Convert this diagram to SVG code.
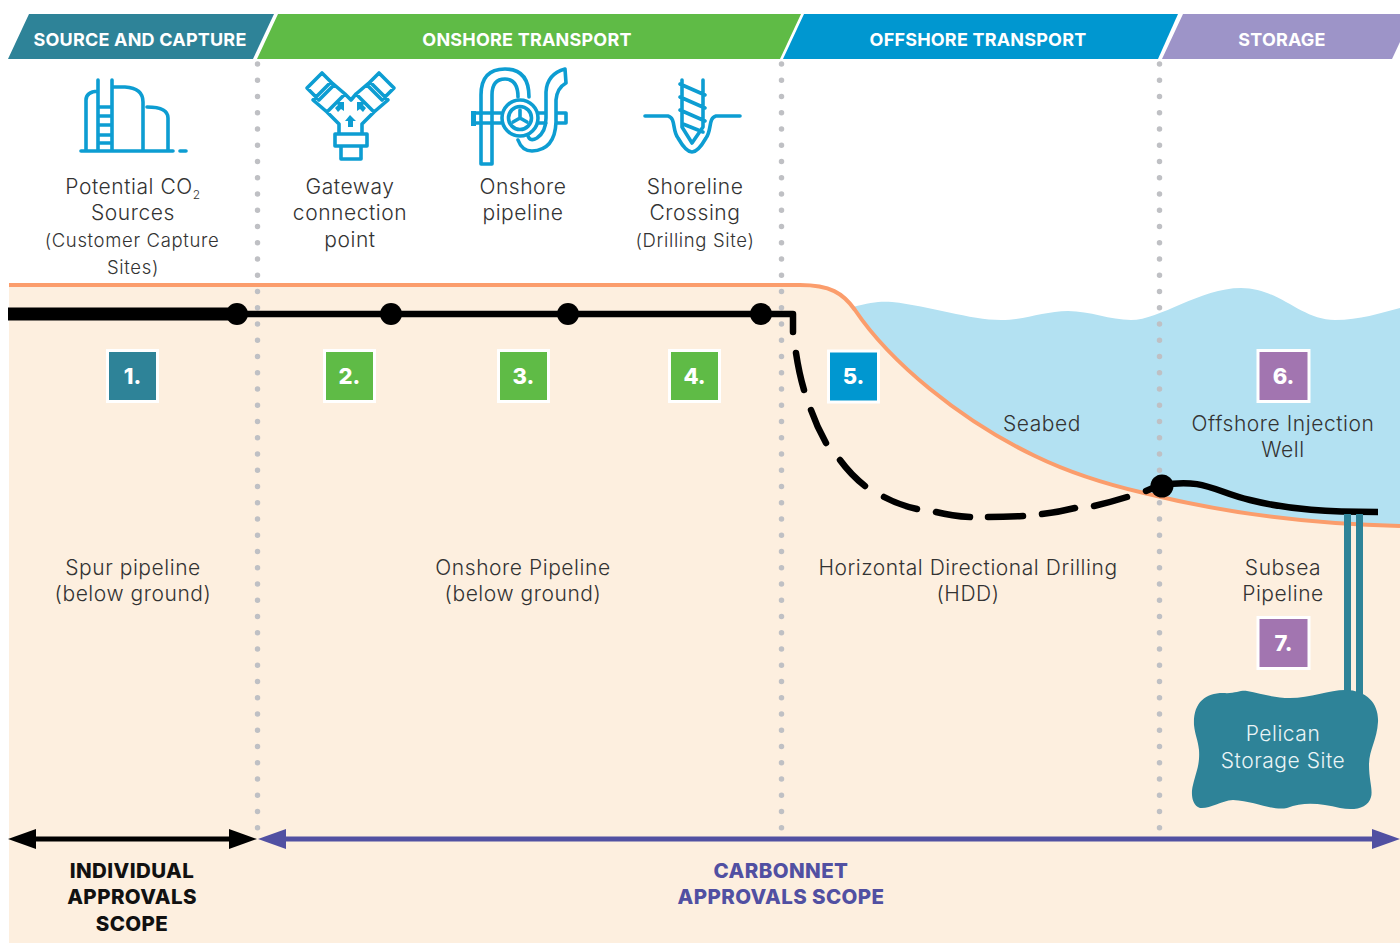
<svg xmlns="http://www.w3.org/2000/svg" width="1400" height="943" viewBox="0 0 1400 943">
<style>
text{font-family:"Inter","Noto Sans","Liberation Sans",sans-serif;text-anchor:middle;fill:#333;font-weight:300;font-size:21px;letter-spacing:.55px}
.s{font-size:18.5px;letter-spacing:.65px}
.h{fill:#fff;font-weight:700;font-size:18px;letter-spacing:.2px}
.b{fill:#fff;font-weight:800;font-size:22px;letter-spacing:0}
.k{fill:#111;font-weight:800;font-size:20.5px;letter-spacing:.4px}
.p{fill:#5150a2;font-weight:800;font-size:20.5px;letter-spacing:.4px}
.w{fill:#eaf4f6}
.ic{fill:none;stroke:#0d9dd2;stroke-width:3.600;stroke-linecap:round;stroke-linejoin:round}
.dot{fill:none;stroke:#bfc0c4;stroke-width:5.5;stroke-linecap:round;stroke-dasharray:0 16.25}
.bx{stroke:#fff;stroke-width:3}
</style>
<defs>
<marker id="ak" markerUnits="userSpaceOnUse" markerWidth="28" markerHeight="20" refX="0" refY="10" orient="auto-start-reverse"><path d="M0 0L28 10L0 20z" fill="#000"/></marker>
<marker id="ap" markerUnits="userSpaceOnUse" markerWidth="28" markerHeight="20" refX="0" refY="10" orient="auto-start-reverse"><path d="M0 0L28 10L0 20z" fill="#5150a2"/></marker>
</defs>
<g id="ground">
<path d="M9 285H800C830 285 843 293 855 310C890 362 960 420 1035 456C1070 473 1105 484 1144 493C1220 512 1300 524 1400 526V943H9z" fill="#fdefdf"/>
<path d="M853 307C870 302 882 301 892 302C930 306 970 320 1001 320C1025 320 1045 311 1068 311C1090 311 1110 320 1131 320C1160 320 1200 288 1241 288C1280 288 1300 320 1335 320C1360 320 1380 313 1400 308V526C1300 524 1220 512 1144 493C1105 484 1070 473 1035 456C960 420 890 362 855 310z" fill="#b3e1f2"/>
<path d="M9 285H800C830 285 843 293 855 310C890 362 960 420 1035 456C1070 473 1105 484 1144 493C1220 512 1300 524 1400 526" fill="none" stroke="#fb9d6c" stroke-width="4"/>
</g>
<g id="dividers">
<path class="dot" d="M257.500 64V835"/>
<path class="dot" d="M781.500 64V835"/>
<path class="dot" d="M1159.500 64V835"/>
</g>
<g id="header-source"><path d="M29 14H274L253 59H8z" fill="#2e8398"/><text class="h" x="140" y="46">SOURCE AND CAPTURE</text></g>
<g id="header-onshore"><path d="M278 14H801L780 59H257z" fill="#5fbb46"/><text class="h" x="527" y="46">ONSHORE TRANSPORT</text></g>
<g id="header-offshore"><path d="M804 14H1178L1158 59H783z" fill="#0097d0"/><text class="h" x="978" y="46">OFFSHORE TRANSPORT</text></g>
<g id="header-storage"><path d="M1183 14H1400V42L1392 59H1162z" fill="#9d94c8"/><text class="h" x="1282" y="46">STORAGE</text></g>

<g id="node-co2-sources">
<g class="ic"><path d="M81 151H173M180 151H186M98 80V151M112 80V151M86 151V100Q86 92 98 91M112 87H125Q143 88 143 102V151M147 107Q168 107 168 118V151M98 107H112M98 116H112M98 125H112M98 135H112M98 143H112"/></g>
<text x="133" y="194">Potential CO<tspan font-size="12" dy="5">2</tspan></text>
<text x="133" y="220">Sources</text>
<text class="s" x="132" y="247">(Customer Capture</text>
<text class="s" x="133" y="274">Sites)</text>
</g>
<g id="node-gateway">
<g class="ic"><path d="M307 88L322 73L334 85L319 100zM394 88L379 73L367 85L382 100zM313 100L331 82L345 94L327 112zM388 100L370 82L356 94L374 112zM327 112L339 124V134M374 112L362 124V134M345 94L351 100L356 94M335 134H367V146H335zM341 146H361V159H341z"/></g>
<path d="M335 102h9v9l-3-2-3 3-3-4 3-3zM366 102h-9v9l3-2 3 3 3-4-3-3zM350 115l6 6h-3v6h-5v-6h-3z" fill="#0d9dd2"/>
<text x="350" y="194">Gateway</text>
<text x="350" y="220">connection</text>
<text x="350" y="247">point</text>
</g>
<g id="node-onshore-pipeline">
<g class="ic"><path d="M481 164V95Q481 69 505 69Q529 69 529 97M492 164V95Q492 79 505 79Q518 79 518 97M481 164H492M565 69Q547 74 546 92V118Q546 132 537 138Q530 142 528 136M565 69L566 83Q557 88 556 100V122Q555 150 532 151Q522 151 518 140M476 113H501M476 123H501M538 113H546M538 123H546M556 113H566V123H556"/>
<circle cx="520" cy="118" r="18"/><circle cx="520" cy="118" r="11.500"/><path d="M520 118V110M520 118L513 122M520 118L527 122"/></g>
<rect x="471" y="111" width="5" height="15" fill="#0d9dd2"/>
<text x="523" y="194">Onshore</text>
<text x="523" y="220">pipeline</text>
</g>
<g id="node-shoreline">
<g class="ic"><path d="M645 116H668C676 118 672 130 678 138Q686 152 692 152Q698 152 706 138C712 130 708 118 716 116H740M682 80V127L692 143L703 127V80M680 84L705 95M680 97L705 108M680 110L705 121M683 124L703 132"/></g>
<text x="695" y="194">Shoreline</text>
<text x="695" y="220">Crossing</text>
<text class="s" x="695" y="247">(Drilling Site)</text>
</g>

<g id="connectors">
<path d="M8 314H237" stroke="#000" stroke-width="13" fill="none"/>
<path d="M237 314H793V332" stroke="#000" stroke-width="6.500" fill="none" stroke-linejoin="round" stroke-linecap="round"/>
<path d="M796 353Q799 373 804 390M811 410Q817 427 826 443M840 460Q851 475 865 486M884 497Q899 505 917 509M936 512Q952 516 970 517M988 517Q1006 517 1023 516M1042 514Q1059 512 1075 508M1094 506Q1111 502 1127 497M1146 491L1162 484" fill="none" stroke="#000" stroke-width="6.500" stroke-linecap="round"/>
<path d="M1162 485C1205 478 1215 492 1250 500C1290 510 1330 512 1378 512" fill="none" stroke="#000" stroke-width="6.500"/>
<path d="M1347.500 514V700M1359.500 514V700" fill="none" stroke="#2e8398" stroke-width="7"/>
<circle cx="237" cy="314" r="11"/><circle cx="391" cy="314" r="11"/><circle cx="568" cy="314" r="11"/><circle cx="761" cy="314" r="11"/><circle cx="1162" cy="486" r="11.500"/>
<path d="M36 839H229" stroke="#000" stroke-width="5" marker-start="url(#ak)" marker-end="url(#ak)" fill="none"/>
<path d="M286 839H1372" stroke="#5150a2" stroke-width="5" marker-start="url(#ap)" marker-end="url(#ap)" fill="none"/>
</g>

<g id="badge-1"><rect class="bx" x="107.500" y="350.500" width="50" height="51" fill="#2e8398"/><text class="b" x="132.500" y="384">1.</text></g>
<g id="badge-2"><rect class="bx" x="324.500" y="350.500" width="50" height="51" fill="#5fbb46"/><text class="b" x="349.500" y="384">2.</text></g>
<g id="badge-3"><rect class="bx" x="498.500" y="350.500" width="50" height="51" fill="#5fbb46"/><text class="b" x="523.500" y="384">3.</text></g>
<g id="badge-4"><rect class="bx" x="669.500" y="350.500" width="50" height="51" fill="#5fbb46"/><text class="b" x="694.500" y="384">4.</text></g>
<g id="badge-5"><rect class="bx" x="828.500" y="351" width="50" height="51" fill="#0097d0"/><text class="b" x="853.500" y="384">5.</text></g>
<g id="badge-6"><rect class="bx" x="1258" y="350.500" width="51" height="51" fill="#a275b0"/><text class="b" x="1283.500" y="384">6.</text></g>
<g id="badge-7"><rect class="bx" x="1258" y="617.500" width="51" height="51" fill="#a275b0"/><text class="b" x="1283.500" y="651">7.</text></g>

<g id="label-spur"><text x="133" y="575">Spur pipeline</text><text x="133" y="601">(below ground)</text></g>
<g id="label-onshore"><text x="523" y="575">Onshore Pipeline</text><text x="523" y="601">(below ground)</text></g>
<g id="label-hdd"><text x="968" y="575">Horizontal Directional Drilling</text><text x="968" y="601">(HDD)</text></g>
<g id="label-seabed"><text x="1042" y="431">Seabed</text></g>
<g id="label-injection"><text x="1283" y="431">Offshore Injection</text><text x="1283" y="457">Well</text></g>
<g id="label-subsea"><text x="1283" y="575">Subsea</text><text x="1283" y="601">Pipeline</text></g>
<g id="node-pelican">
<path d="M1194 725C1193 703 1205 693 1223 693C1235 694 1240 690 1247 691C1262 694 1275 698 1290 698C1310 698 1330 690 1345 690C1368 690 1379 705 1378 722C1377 740 1369 750 1369 765C1369 780 1373 790 1371 797C1368 808 1355 811 1340 808C1322 804 1305 801 1287 808C1272 811 1255 801 1233 800C1220 801 1210 809 1200 808C1191 805 1191 792 1193 785C1196 772 1200 765 1199 750C1198 740 1195 735 1194 725z" fill="#2e8398"/>
<text class="w" x="1283" y="741">Pelican</text><text class="w" x="1283" y="768">Storage Site</text>
</g>
<g id="scope-individual"><text class="k" x="132" y="878">INDIVIDUAL</text><text class="k" x="132" y="904">APPROVALS</text><text class="k" x="132" y="931">SCOPE</text></g>
<g id="scope-carbonnet"><text class="p" x="781" y="878">CARBONNET</text><text class="p" x="781" y="904">APPROVALS SCOPE</text></g>
</svg>
